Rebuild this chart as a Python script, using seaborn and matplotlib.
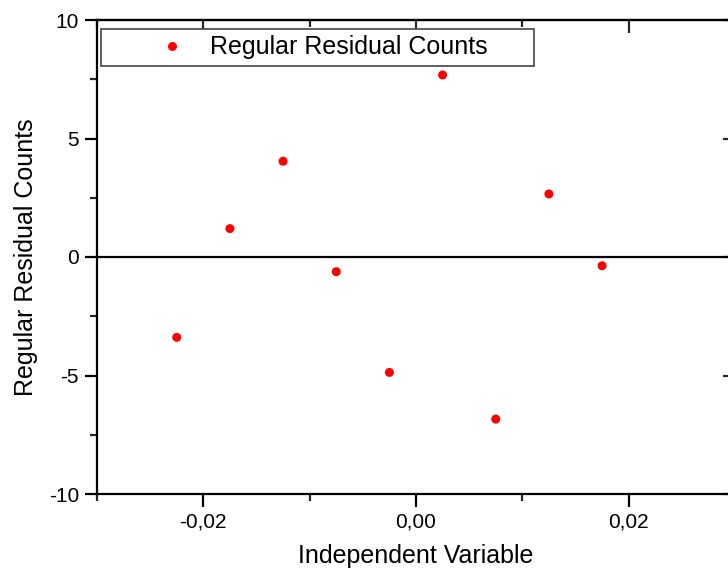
import matplotlib
matplotlib.use("Agg")
import matplotlib.pyplot as plt
import seaborn as sns
import pandas as pd
from matplotlib.ticker import FuncFormatter, MultipleLocator

x_values = [-0.0225, -0.0175, -0.0125, -0.0075, -0.0025, 0.0025, 0.0075, 0.0125, 0.0175]
residuals = [-3.39, 1.20, 4.04, -0.62, -4.87, 7.68, -6.84, 2.66, -0.37]
series_name = "Regular Residual Counts"
x_label = "Independent Variable"
y_label = "Regular Residual Counts"

df = pd.DataFrame({"x": x_values, "y": residuals, "s": series_name})

sns.set_style("ticks")
plt.rcParams["font.family"] = ["Liberation Sans", "DejaVu Sans"]
plt.rcParams["text.color"] = "black"
plt.rcParams["axes.labelcolor"] = "black"

fig = plt.figure(figsize=(7.28, 5.71), dpi=100)
ax = fig.add_axes([97/728, 77/571, 638/728, 474/571])

sns.scatterplot(data=df, x="x", y="y", hue="s", palette=["#ff0000"], s=42,
                linewidth=0, ax=ax, zorder=3)
ax.axhline(0, color="black", lw=1.6, zorder=2)

ax.set_xlim(-0.03, 0.03)
ax.set_ylim(-10, 10)
ax.xaxis.set_major_locator(MultipleLocator(0.02))
ax.xaxis.set_minor_locator(MultipleLocator(0.01))
ax.yaxis.set_major_locator(MultipleLocator(5))
ax.yaxis.set_minor_locator(MultipleLocator(2.5))
ax.xaxis.set_major_formatter(FuncFormatter(lambda v, p: f"{v:.2f}".replace(".", ",").replace("-0,00", "0,00")))
ax.yaxis.set_major_formatter(FuncFormatter(lambda v, p: f"{int(round(v))}"))

for sp in ax.spines.values():
    sp.set_linewidth(1.6)
    sp.set_color("black")
    sp.set_visible(True)

ax.tick_params(axis="both", which="major", direction="out", length=9, width=1.6,
               labelsize=15, colors="black", labelcolor="black", pad=4)
ax.tick_params(axis="both", which="minor", direction="out", length=5, width=1.6)

# top / right inward ticks
secx = ax.secondary_xaxis("top")
secx.xaxis.set_major_locator(MultipleLocator(0.02))
secx.xaxis.set_minor_locator(MultipleLocator(0.01))
secx.tick_params(which="major", direction="in", length=9, width=1.6, labeltop=False)
secx.tick_params(which="minor", direction="in", length=5, width=1.6)
secx.spines["top"].set_linewidth(1.6)
secy = ax.secondary_yaxis("right")
secy.yaxis.set_major_locator(MultipleLocator(5))
secy.yaxis.set_minor_locator(MultipleLocator(2.5))
secy.tick_params(which="major", direction="in", length=9, width=1.6, labelright=False)
secy.tick_params(which="minor", direction="in", length=3, width=1.6)

ax.set_xlabel(x_label, fontsize=18, labelpad=9, color="black")
ax.set_ylabel(y_label, fontsize=18, labelpad=8, color="black")

leg = ax.legend(loc="upper left", bbox_to_anchor=(4/638, 0.0, 433/638, (494-29)/474),
                mode="expand", borderaxespad=0, fontsize=18, borderpad=0.25,
                handlelength=5.2, handletextpad=-1.1, fancybox=False,
                framealpha=1, edgecolor="#444444", markerscale=1.0)
leg.get_frame().set_linewidth(1.2)
for t in leg.get_texts():
    t.set_color("black")

fig.savefig("out.png", dpi=100)
